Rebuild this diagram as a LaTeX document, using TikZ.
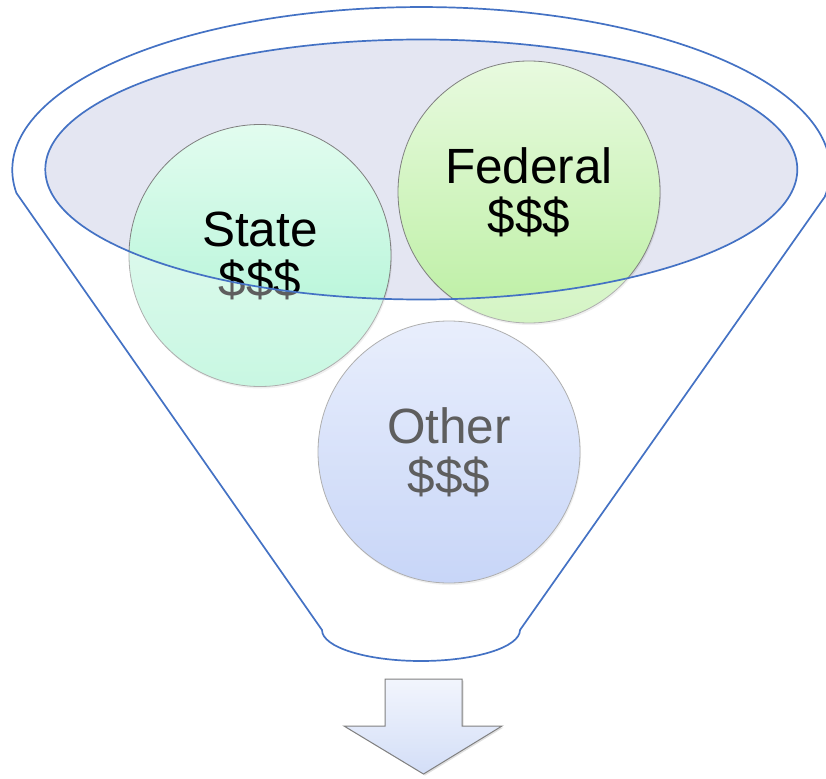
\documentclass[tikz,border=0pt]{standalone}
\usepackage{fontspec}
\setmainfont{Liberation Sans}
\usetikzlibrary{shadows}
\definecolor{funnelblue}{HTML}{4472C4}
\definecolor{mouthfill}{HTML}{E4E6F2}
\definecolor{statetop}{HTML}{E2FCEF}
\definecolor{statebot}{HTML}{A9F3D2}
\definecolor{fedtop}{HTML}{E8FADF}
\definecolor{fedbot}{HTML}{BCEFA3}
\definecolor{othertop}{HTML}{DCE5FB}
\definecolor{otherbot}{HTML}{A8BEF4}
\definecolor{arrowtop}{HTML}{F2F5FD}
\definecolor{arrowbot}{HTML}{D3DEF7}
\tikzstyle{fund} = [circle, draw=gray, line width=0.8pt,
    minimum size=262pt, inner sep=0pt, align=center,
    font=\fontsize{49.5}{50}\selectfont,
    drop shadow={opacity=0.2, shadow xshift=1pt, shadow yshift=-2pt}]
\tikzstyle{funnel} = [draw=funnelblue, line width=1.7pt, line join=round]
\tikzstyle{outarrow} = [draw=gray, line width=1pt, top color=arrowtop, bottom color=arrowbot,
    drop shadow={opacity=0.25, shadow xshift=1.5pt, shadow yshift=-1.5pt}]

\begin{document}
\begin{tikzpicture}[x=1pt, y=-1pt]
    \useasboundingbox (0,0) rectangle (826,778);
    % Mouth of the funnel
    \fill [mouthfill] (421.3,169.5) ellipse [x radius=376, y radius=130];
    % Place nodes
    \node [fund, top color=statetop, bottom color=statebot] (state) at (260,255.5) {State\\\$\$\$};
    \node [fund, top color=fedtop, bottom color=fedbot] (federal) at (529,192) {Federal\\\$\$\$};
    \node [fund, top color=othertop, bottom color=otherbot] (other) at (449,452) {Other\\\$\$\$};
    % Body of the funnel, laid over the money
    \fill [white, fill opacity=0.37, even odd rule]
        (16.4,193) arc [start angle=171.9, end angle=369.5, x radius=409, y radius=163]
        -- (520,630) arc [start angle=0, end angle=180, x radius=99, y radius=31] -- cycle
        (421.3,169.5) ellipse [x radius=376, y radius=130];
    % Draw outlines
    \draw [funnel] (16.4,193) arc [start angle=171.9, end angle=369.5, x radius=409, y radius=163]
        -- (520,630) arc [start angle=0, end angle=180, x radius=99, y radius=31] -- cycle;
    \draw [funnel] (421.3,169.5) ellipse [x radius=376, y radius=130];
    % Output arrow
    \draw [outarrow] (385,679) -- (462,679) -- (462,726) -- (502,726) -- (423.5,774)
        -- (344,726) -- (385,726) -- cycle;
\end{tikzpicture}
\end{document}
